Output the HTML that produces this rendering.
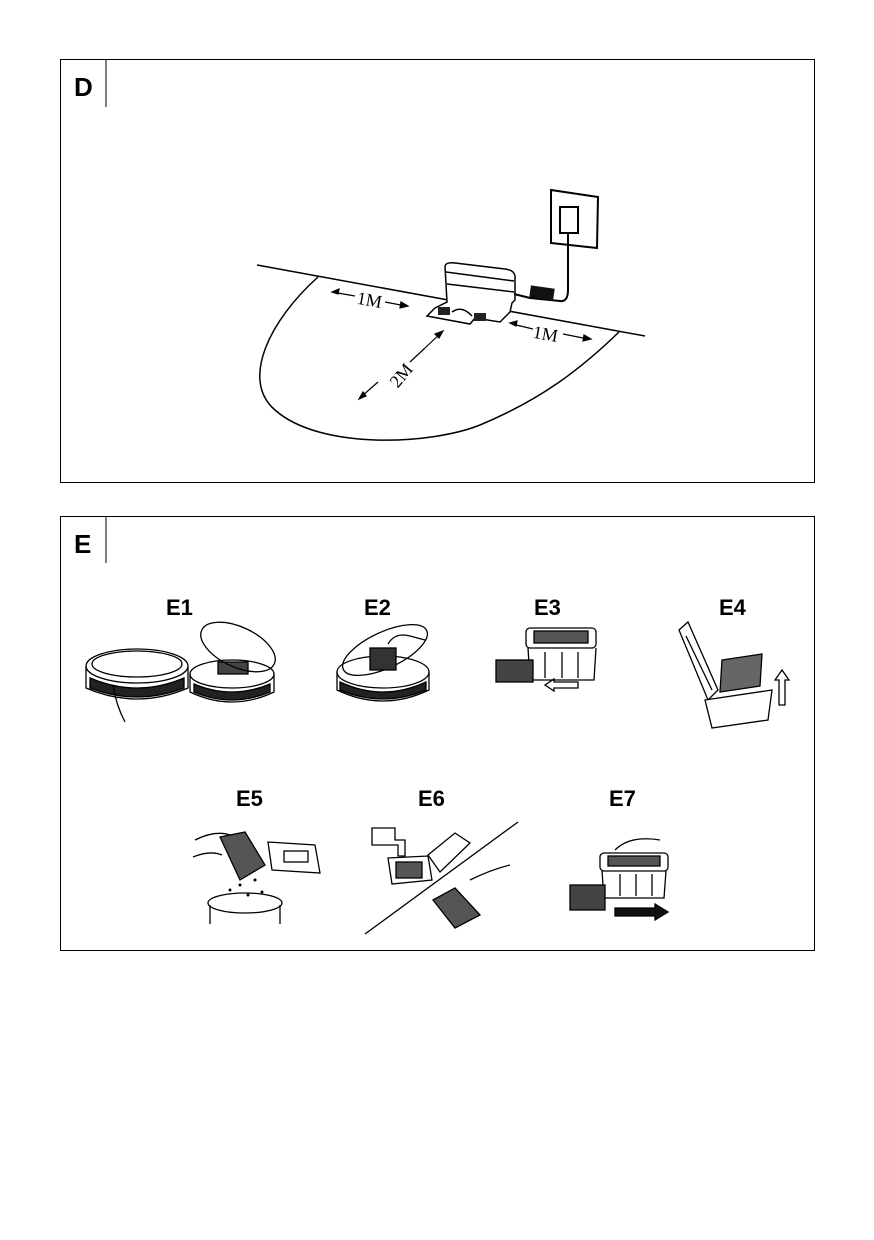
<!DOCTYPE html>
<html><head><meta charset="utf-8"><style>
html,body{margin:0;padding:0;background:#fff}
svg{display:block}
.h{font-family:"Liberation Sans",sans-serif;font-weight:bold;font-size:22px;fill:#000}
.m{font-family:"Liberation Serif",serif;font-size:18px;fill:#000}
</style></head><body>
<svg width="874" height="1240" viewBox="0 0 874 1240" xmlns="http://www.w3.org/2000/svg" fill="none" stroke="#000" stroke-width="1.5">
<rect x="60.5" y="59.5" width="754" height="423" stroke-width="1"/>
<line x1="106" y1="59" x2="106" y2="107" stroke-width="1"/>
<text x="74" y="96" class="h" stroke="none" style="font-size:26px">D</text>
<line x1="257" y1="265" x2="645" y2="336" stroke-width="1.5"/>
<path d="M318 277 C270 320 240 380 275 410 C320 450 430 445 480 425 C540 400 580 370 620 331" stroke-width="1.5"/>
<path d="M445 266 L447 302 L435 308 L427 316 L470 324 L475 318 L500 322 L510 312 L512 303 L515 300 L515 276 Q514 270 505 269 L455 263 Q446 262 445 266 Z" fill="#fff"/>
<line x1="446" y1="272" x2="514" y2="281"/>
<line x1="447" y1="284" x2="514" y2="292"/>
<rect x="438" y="307" width="12" height="8" fill="#222" stroke="none"/>
<rect x="474" y="313" width="12" height="8" fill="#222" stroke="none"/>
<path d="M452 312 Q462 305 472 316" />
<path d="M514 294 L530 298 L560 301 Q568 302 568 290 L568 232" stroke-width="2"/>
<rect x="530" y="287" width="24" height="12" fill="#111" stroke="none" transform="rotate(8 542 293)"/>
<path d="M551 190 L598 197 L597 248 L551 243 Z" stroke-width="2"/>
<rect x="560" y="207" width="18" height="26" fill="#fff" stroke-width="2"/>
<g stroke-width="1.2">
<line x1="332" y1="292" x2="355" y2="296"/><path d="M332 292 l7 -3 l-1 5 z" fill="#000"/>
<line x1="385" y1="302" x2="406" y2="306"/><path d="M408 306 l-7 -4 l-1 6 z" fill="#000"/>
<line x1="512" y1="324" x2="533" y2="329"/><path d="M510 323 l7 -2 l-1 5 z" fill="#000"/>
<line x1="563" y1="334" x2="588" y2="339"/><path d="M591 339 l-7 -4 l-1 6 z" fill="#000"/>
<line x1="425" y1="348" x2="410" y2="362"/><path d="M443 331 l-4 7 l-4 -4 z" fill="#000"/><line x1="443" y1="331" x2="425" y2="348"/>
<line x1="378" y1="382" x2="362" y2="396"/><path d="M359 399 l4 -7 l3 4 z" fill="#000"/>
</g>
<text x="357" y="306" class="m" stroke="none" transform="rotate(10 370 300)">1M</text>
<text x="533" y="340" class="m" stroke="none" transform="rotate(10 546 334)">1M</text>
<text x="388" y="384" class="m" stroke="none" transform="rotate(-50 398 376)">2M</text>

<rect x="60.5" y="516.5" width="754" height="434" stroke-width="1"/>
<line x1="106" y1="516" x2="106" y2="563" stroke-width="1"/>
<text x="74" y="553" class="h" stroke="none" style="font-size:26px">E</text>
<g stroke="none">
<text x="166" y="615" class="h">E1</text>
<text x="364" y="615" class="h">E2</text>
<text x="534" y="615" class="h">E3</text>
<text x="719" y="615" class="h">E4</text>
<text x="236" y="806" class="h">E5</text>
<text x="418" y="806" class="h">E6</text>
<text x="609" y="806" class="h">E7</text>
</g>
<g stroke-width="1.3">
<ellipse cx="137" cy="666" rx="51" ry="17"/>
<ellipse cx="137" cy="664" rx="45" ry="13"/>
<path d="M86 666 L86 688 Q137 710 188 688 L188 666"/>
<path d="M90 678 Q137 698 184 678 L184 688 Q137 706 90 688 Z" fill="#222"/>
<path d="M113 685 Q116 705 125 722"/>
<ellipse cx="232" cy="674" rx="42" ry="14"/>
<path d="M190 674 L190 692 Q232 712 274 692 L274 674"/>
<path d="M194 684 Q232 700 270 684 L270 692 Q232 708 194 692 Z" fill="#222"/>
<rect x="218" y="662" width="30" height="12" fill="#444"/>
<ellipse cx="238" cy="647" rx="40" ry="20" transform="rotate(25 238 647)"/>
</g>
<g stroke-width="1.3">
<ellipse cx="383" cy="672" rx="46" ry="16"/>
<path d="M337 672 L337 690 Q383 712 429 690 L429 672"/>
<path d="M340 682 Q383 702 426 682 L426 690 Q383 708 340 690 Z" fill="#222"/>
<ellipse cx="385" cy="650" rx="46" ry="18" transform="rotate(-25 385 650)"/>
<rect x="370" y="648" width="26" height="22" fill="#333"/>
<path d="M388 644 Q395 632 410 636 L425 640"/>
</g>
<g stroke-width="1.3">
<rect x="526" y="628" width="70" height="20" rx="4"/>
<rect x="534" y="631" width="54" height="12" fill="#555"/>
<path d="M528 648 L530 680 L594 680 L596 648"/>
<line x1="545" y1="652" x2="545" y2="678"/><line x1="562" y1="652" x2="562" y2="678"/><line x1="578" y1="652" x2="578" y2="678"/>
<rect x="496" y="660" width="37" height="22" fill="#444"/>
<path d="M578 682 L554 682 L554 679 L545 685 L554 691 L554 688 L578 688 Z"/>
</g>
<g stroke-width="1.3">
<path d="M679 630 L688 622 L718 690 L708 700 Z"/>
<path d="M686 636 L712 690"/>
<path d="M722 660 L762 654 L760 686 L720 692 Z" fill="#666"/>
<path d="M705 700 L772 690 L768 720 L712 728 Z" fill="#fff"/>
<path d="M779 705 L779 680 L775 680 L782 670 L789 680 L785 680 L785 705 Z"/>
</g>
<g stroke-width="1.3">
<path d="M220 837 L245 832 L265 865 L240 880 Z" fill="#555"/>
<path d="M268 842 L315 845 L320 873 L272 870 Z"/>
<rect x="284" y="851" width="24" height="11"/>
<ellipse cx="245" cy="903" rx="37" ry="10"/>
<path d="M210 905 L210 924 M280 905 L280 924"/>
<path d="M195 840 Q215 830 230 835 M193 857 Q210 850 222 855"/>
<g fill="#000" stroke="none"><circle cx="240" cy="885" r="1.5"/><circle cx="255" cy="880" r="1.5"/><circle cx="230" cy="890" r="1.5"/><circle cx="262" cy="892" r="1.5"/><circle cx="248" cy="895" r="1.5"/></g>
</g>
<g stroke-width="1.3">
<line x1="365" y1="934" x2="518" y2="822"/>
<path d="M372 828 L395 828 L395 840 L405 840 L405 856 L398 856 L398 845 L372 845 Z"/>
<path d="M388 858 L428 856 L432 880 L392 884 Z"/>
<rect x="396" y="862" width="26" height="16" fill="#555"/>
<path d="M428 855 L455 833 L470 843 L440 872 Z"/>
<path d="M433 900 L455 888 L480 915 L455 928 Z" fill="#555"/>
<path d="M470 880 Q490 870 510 865"/>
</g>
<g stroke-width="1.3">
<rect x="600" y="853" width="68" height="18" rx="4"/>
<rect x="608" y="856" width="52" height="10" fill="#555"/>
<path d="M602 871 L604 898 L664 898 L666 871"/>
<line x1="620" y1="874" x2="620" y2="896"/><line x1="636" y1="874" x2="636" y2="896"/><line x1="652" y1="874" x2="652" y2="896"/>
<rect x="570" y="885" width="35" height="25" fill="#444"/>
<path d="M615 908 L655 908 L655 904 L668 912 L655 920 L655 916 L615 916 Z" fill="#111"/>
<path d="M615 850 Q630 835 660 840"/>
</g>
</svg>
</body></html>
